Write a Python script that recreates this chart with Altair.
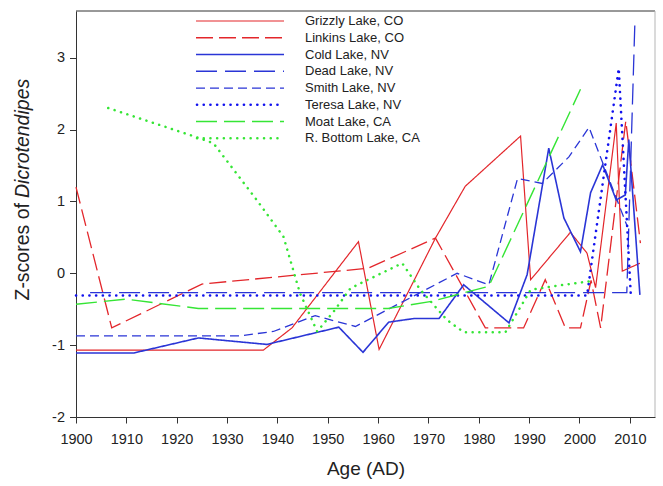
import altair as alt
import pandas as pd

lakes = ["Grizzly Lake, CO", "Linkins Lake, CO", "Cold Lake, NV", "Dead Lake, NV",
         "Smith Lake, NV", "Teresa Lake, NV", "Moat Lake, CA", "R. Bottom Lake, CA"]

grizzly_years = [1900, 1937.2, 1942.9, 1956.1, 1960.2, 1971.4, 1977.3, 1988.3, 1990.3,
                 1998.2, 2001.5, 2003.2, 2007.3, 2008.5, 2012]
grizzly_vals = [-1.07, -1.07, -0.76, 0.44, -1.06, 0.49, 1.21, 1.91, -0.09,
                0.57, 0.28, -0.20, 2.09, 0.03, 0.14]

linkins_years = [1900, 1907.1, 1925, 1958, 1971.4, 1981.3, 1988.9, 1993.2, 1997.2,
                 2000.2, 2002.3, 2004.2, 2009.2, 2012.1]
linkins_vals = [1.20, -0.76, -0.15, 0.07, 0.49, -0.76, -0.76, -0.09, -0.76,
                -0.76, -0.10, -0.76, 2.12, 0.42]

cold_years = [1900, 1911.4, 1924.3, 1937.9, 1952.2, 1957, 1962.1, 1967.1, 1972.1, 1977,
              1986, 1989.6, 1993.9, 1996.9, 2000.2, 2002.2, 2004.6, 2007.3, 2009.1, 2009.8, 2012]
cold_vals = [-1.11, -1.11, -0.90, -0.99, -0.75, -1.10, -0.68, -0.63, -0.63, -0.16,
             -0.69, -0.02, 1.74, 0.77, 0.30, 1.12, 1.51, 1.02, 1.09, 1.86, -0.30]

dead_years = [1902.8, 2009.4, 2011]
dead_vals = [-0.27, -0.27, 3.48]

smith_years = [1900, 1932.6, 1939.2, 1947.5, 1955.5, 1975.7, 1982, 1987.7, 1992.6,
               1997.9, 2001.9, 2009.5]
smith_vals = [-0.87, -0.87, -0.81, -0.59, -0.74, 0.00, -0.16, 1.32, 1.25,
              1.62, 2.03, 0.65]

teresa_years = [1900, 2001.5, 2007.8, 2010.2]
teresa_vals = [-0.31, -0.31, 2.85, -0.31]

moat_years = [1900, 1910, 1924.3, 1962, 1970.7, 1982, 2000.2]
moat_vals = [-0.43, -0.36, -0.49, -0.49, -0.39, -0.18, 2.56]

rbottom_years = [1906.4, 1923.7, 1927.3, 1935.9, 1941.2, 1944.5, 1947.9, 1951.2, 1954.5,
                 1956.5, 1964.8, 1968.4, 1973.7, 1977, 1985.3, 1990.3, 1994.9, 2002.2]
rbottom_vals = [2.30, 1.90, 1.81, 1.02, 0.51, -0.28, -0.81, -0.53, -0.21,
                -0.14, 0.14, -0.23, -0.65, -0.82, -0.82, -0.23, -0.18, -0.11]

x_ticks = list(range(1900, 2016, 5))
y_ticks = [-2, -1, 0, 1, 2, 3]

series = [
    (lakes[0], grizzly_years, grizzly_vals),
    (lakes[1], linkins_years, linkins_vals),
    (lakes[2], cold_years, cold_vals),
    (lakes[3], dead_years, dead_vals),
    (lakes[4], smith_years, smith_vals),
    (lakes[5], teresa_years, teresa_vals),
    (lakes[6], moat_years, moat_vals),
    (lakes[7], rbottom_years, rbottom_vals),
]
rows = []
for name, ys, vs in series:
    for i, (yr, v) in enumerate(zip(ys, vs)):
        rows.append({"lake": name, "year": yr, "z": v, "order": i})
df = pd.DataFrame(rows)
legend_df = pd.DataFrame({"lake": lakes})
one = pd.DataFrame({"a": [0]})

RED = "#e3262b"
BLUE = "#2a35d6"
DOTBLUE = "#1212ee"
GREEN = "#35e535"
colors = [RED, RED, BLUE, BLUE, BLUE, DOTBLUE, GREEN, GREEN]
styles = {
    "Grizzly Lake, CO": dict(strokeWidth=1.2, strokeDash=[1, 0], strokeCap="butt"),
    "Linkins Lake, CO": dict(strokeWidth=1.3, strokeDash=[17, 6], strokeCap="butt"),
    "Cold Lake, NV": dict(strokeWidth=1.6, strokeDash=[1, 0], strokeCap="butt"),
    "Dead Lake, NV": dict(strokeWidth=1.3, strokeDash=[21, 8], strokeCap="butt"),
    "Smith Lake, NV": dict(strokeWidth=1.3, strokeDash=[9, 5], strokeCap="butt"),
    "Teresa Lake, NV": dict(strokeWidth=2.6, strokeDash=[0.1, 6.6], strokeCap="round"),
    "Moat Lake, CA": dict(strokeWidth=1.4, strokeDash=[21, 7], strokeCap="butt"),
    "R. Bottom Lake, CA": dict(strokeWidth=2.5, strokeDash=[0.1, 6.6], strokeCap="round"),
}

FONT = "Liberation Sans"
W, H = 579, 406

color = alt.Color("lake:N", scale=alt.Scale(domain=lakes, range=colors), legend=None)

xenc = alt.X("year:Q", scale=alt.Scale(domain=[1900, 2015], nice=False, zero=False),
             axis=alt.Axis(values=x_ticks, labelExpr="datum.value % 10 == 0 ? '' + datum.value : ''",
                           title="Age (AD)", grid=False, tickSize=6, labelPadding=9,
                           titlePadding=14, titleFontSize=19, titleFontWeight="normal",
                           titleFont=FONT, titleColor="#222", labelFlush=False))
ysc = alt.Scale(domain=[-2, 3.65], nice=False, zero=False)
yenc_axis = alt.Y("z:Q", scale=ysc,
                  axis=alt.Axis(values=y_ticks, title=None, grid=False, tickSize=6.5,
                                labelPadding=5, labelExpr="'' + datum.value"))
yenc_noaxis = alt.Y("z:Q", scale=ysc, axis=None)
leg_y = alt.Y("lake:N", scale=alt.Scale(type="point", domain=lakes, range=[10, 127.3], padding=0),
              axis=None)

layers = []
for i, name in enumerate(lakes):
    st = styles[name]
    layers.append(
        alt.Chart(df).transform_filter(alt.datum.lake == name).mark_line(**st).encode(
            x=xenc if i == 0 else alt.X("year:Q"),
            y=yenc_axis if i == 0 else yenc_noaxis,
            color=color, order="order:Q")
    )
leg_layers = []
for name in lakes:
    st = styles[name]
    x0 = 121 if st["strokeCap"] == "round" else 120
    leg_layers.append(
        alt.Chart(legend_df).transform_filter(alt.datum.lake == name).mark_rule(**st).encode(
            y=leg_y, x=alt.value(x0), x2=alt.value(208), color=color)
    )
leg_text = alt.Chart(legend_df).mark_text(
    align="left", baseline="middle", fontSize=13, font=FONT, color="#222"
).encode(y=leg_y, x=alt.value(229), text="lake:N")

top_border = alt.Chart(one).mark_rule(color="#333", strokeWidth=1).encode(
    x=alt.value(0), x2=alt.value(W), y=alt.value(0))
right_border = alt.Chart(one).mark_rule(color="#b5b5b5", strokeWidth=1).encode(
    x=alt.value(W), y=alt.value(0), y2=alt.value(H))

ytitle_a = alt.Chart(one).mark_text(
    text="Z-scores of", angle=270, align="right", baseline="middle",
    fontSize=19.5, font=FONT, color="#222"
).encode(x=alt.value(-53), y=alt.value(192))
ytitle_b = alt.Chart(one).mark_text(
    text="Dicrotendipes", angle=270, align="left", baseline="middle",
    fontSize=19.5, font=FONT, fontStyle="italic", color="#222"
).encode(x=alt.value(-53), y=alt.value(187))

chart = alt.layer(
    *layers, *leg_layers, leg_text,
    top_border, right_border, ytitle_a, ytitle_b
).resolve_scale(y="independent").properties(
    width=W, height=H,
    autosize=alt.AutoSizeParams(type="none"),
    padding={"left": 76, "top": 11, "right": 8, "bottom": 69},
).configure_view(stroke=None).configure_axis(
    domainColor="#333", tickColor="#333", labelColor="#222", labelFont=FONT,
    labelFontSize=14.5, domainWidth=1, tickWidth=1
)

chart.save("out.html", embed_options={"renderer": "svg", "actions": False})
